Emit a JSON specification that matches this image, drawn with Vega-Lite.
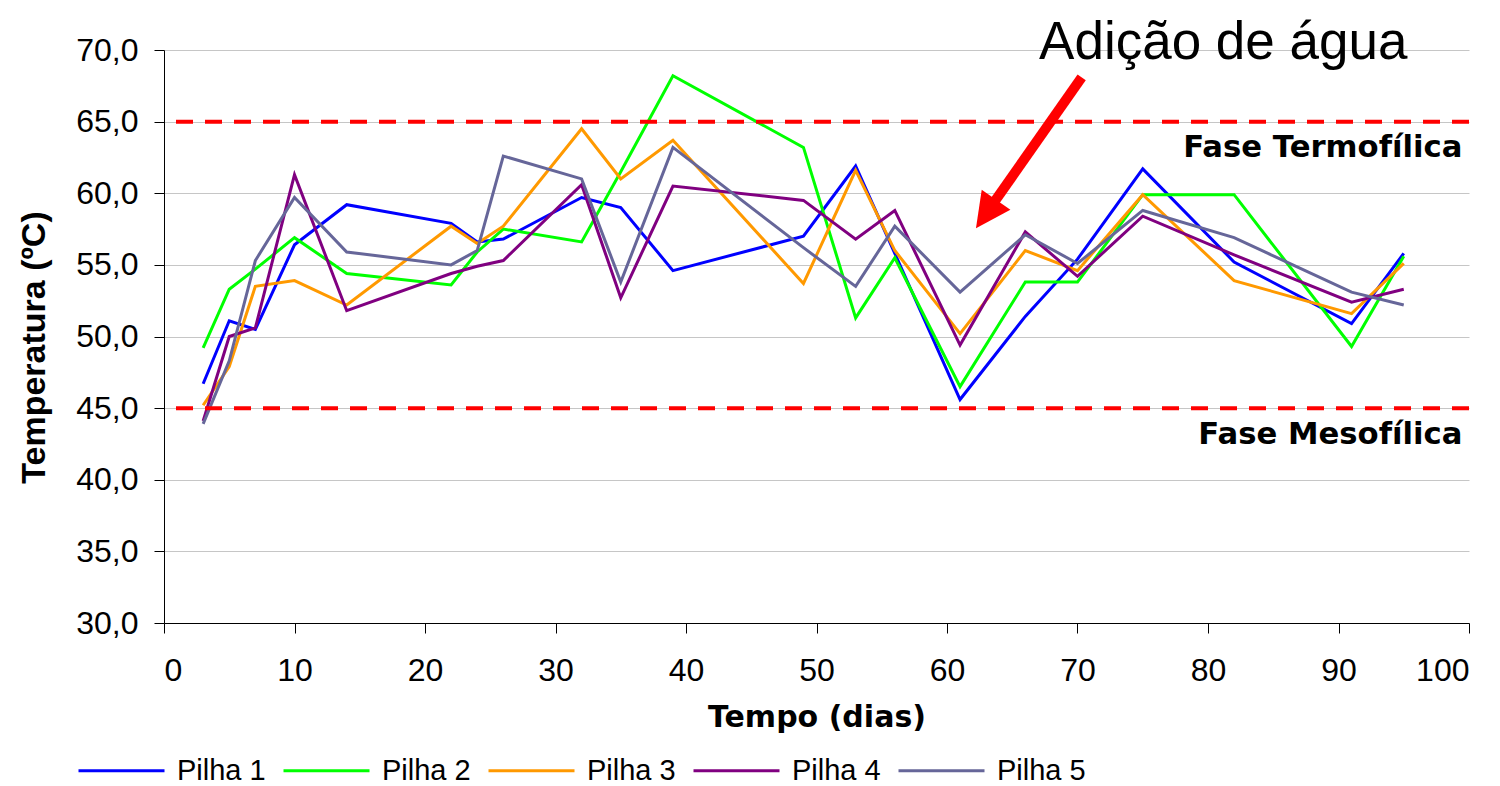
{
  "$schema": "https://vega.github.io/schema/vega-lite/v6.json",
  "autosize": {"type": "none"},
  "width": 1305,
  "height": 573,
  "padding": {"left": 164, "top": 50, "right": 31, "bottom": 163},
  "background": "white",
  "config": {
    "view": {"stroke": null},
    "font": "Liberation Sans",
    "axis": {
      "domainColor": "#000000",
      "domainWidth": 1,
      "tickColor": "#000000",
      "tickWidth": 1,
      "tickSize": 10,
      "labelFont": "Liberation Sans",
      "labelFontSize": 32,
      "labelColor": "#000000",
      "titleColor": "#000000",
      "gridColor": "#c6c6c6",
      "gridWidth": 1
    },
    "axisX": {"grid": false, "labelPadding": 22, "titlePadding": 16, "titleFont": "DejaVu Sans", "titleFontSize": 30, "titleFontWeight": "bold"},
    "axisY": {"grid": true, "labelPadding": 16, "titlePadding": 24, "titleFont": "Liberation Sans", "titleFontSize": 34, "titleFontWeight": "bold"}
  },
  "layer": [
    {
      "data": {
        "values": [
          {"dia": 3, "Pilha 1": 46.7, "Pilha 2": 49.2, "Pilha 3": 45.2, "Pilha 4": 44.1, "Pilha 5": 43.9},
          {"dia": 5, "Pilha 1": 51.1, "Pilha 2": 53.3, "Pilha 3": 47.9, "Pilha 4": 50.0, "Pilha 5": 48.3},
          {"dia": 7, "Pilha 1": 50.5, "Pilha 2": 54.7, "Pilha 3": 53.5, "Pilha 4": 50.6, "Pilha 5": 55.3},
          {"dia": 10, "Pilha 1": 56.4, "Pilha 2": 56.9, "Pilha 3": 53.9, "Pilha 4": 61.3, "Pilha 5": 59.7},
          {"dia": 14, "Pilha 1": 59.2, "Pilha 2": 54.4, "Pilha 3": 52.2, "Pilha 4": 51.8, "Pilha 5": 55.9},
          {"dia": 22, "Pilha 1": 57.9, "Pilha 2": 53.6, "Pilha 3": 57.7, "Pilha 4": 54.4, "Pilha 5": 55.0},
          {"dia": 24, "Pilha 1": 56.6, "Pilha 2": 55.9, "Pilha 3": 56.5, "Pilha 4": 54.9, "Pilha 5": 56.0},
          {"dia": 26, "Pilha 1": 56.8, "Pilha 2": 57.5, "Pilha 3": 57.7, "Pilha 4": 55.3, "Pilha 5": 62.6},
          {"dia": 32, "Pilha 1": 59.7, "Pilha 2": 56.6, "Pilha 3": 64.5, "Pilha 4": 60.6, "Pilha 5": 61.0},
          {"dia": 35, "Pilha 1": 59.0, "Pilha 2": 61.5, "Pilha 3": 61.0, "Pilha 4": 52.7, "Pilha 5": 53.8},
          {"dia": 39, "Pilha 1": 54.6, "Pilha 2": 68.2, "Pilha 3": 63.7, "Pilha 4": 60.5, "Pilha 5": 63.2},
          {"dia": 49, "Pilha 1": 57.0, "Pilha 2": 63.2, "Pilha 3": 53.7, "Pilha 4": 59.5, "Pilha 5": 56.2},
          {"dia": 53, "Pilha 1": 61.9, "Pilha 2": 51.3, "Pilha 3": 61.6, "Pilha 4": 56.8, "Pilha 5": 53.5},
          {"dia": 56, "Pilha 1": 55.8, "Pilha 2": 55.5, "Pilha 3": 56.0, "Pilha 4": 58.8, "Pilha 5": 57.7},
          {"dia": 61, "Pilha 1": 45.6, "Pilha 2": 46.5, "Pilha 3": 50.2, "Pilha 4": 49.4, "Pilha 5": 53.1},
          {"dia": 66, "Pilha 1": 51.4, "Pilha 2": 53.8, "Pilha 3": 56.0, "Pilha 4": 57.3, "Pilha 5": 57.1},
          {"dia": 70, "Pilha 1": 55.4, "Pilha 2": 53.8, "Pilha 3": 54.6, "Pilha 4": 54.2, "Pilha 5": 55.1},
          {"dia": 75, "Pilha 1": 61.7, "Pilha 2": 59.9, "Pilha 3": 59.9, "Pilha 4": 58.4, "Pilha 5": 58.8},
          {"dia": 82, "Pilha 1": 55.2, "Pilha 2": 59.9, "Pilha 3": 53.9, "Pilha 4": 55.7, "Pilha 5": 56.9},
          {"dia": 91, "Pilha 1": 50.9, "Pilha 2": 49.3, "Pilha 3": 51.6, "Pilha 4": 52.4, "Pilha 5": 53.1},
          {"dia": 95, "Pilha 1": 55.8, "Pilha 2": 55.6, "Pilha 3": 55.1, "Pilha 4": 53.3, "Pilha 5": 52.2}
        ]
      },
      "transform": [{"fold": ["Pilha 1", "Pilha 2", "Pilha 3", "Pilha 4", "Pilha 5"], "as": ["pilha", "temp"]}],
      "mark": {"type": "line", "strokeWidth": 3, "clip": false},
      "encoding": {
        "x": {"field": "dia", "type": "quantitative", "title": "Tempo (dias)",
              "scale": {"domain": [0, 100], "nice": false, "zero": false},
              "axis": {"values": [0, 10, 20, 30, 40, 50, 60, 70, 80, 90, 100]}},
        "y": {"field": "temp", "type": "quantitative", "title": "Temperatura (ºC)",
              "scale": {"domain": [30, 70], "nice": false, "zero": false},
              "axis": {"values": [30, 35, 40, 45, 50, 55, 60, 65, 70], "labelExpr": "replace(format(datum.value, '.1f'), '.', ',')", "titleY": 297}},
        "color": {"field": "pilha", "type": "nominal",
                  "scale": {"domain": ["Pilha 1", "Pilha 2", "Pilha 3", "Pilha 4", "Pilha 5"], "range": ["#0000FF", "#00FF00", "#FF9900", "#800080", "#666699"]},
                  "legend": {"title": null, "orient": "none", "direction": "horizontal", "legendX": -87, "legendY": 676,
                             "symbolType": "stroke", "symbolSize": 7396, "symbolStrokeWidth": 3,
                             "labelFont": "Liberation Sans", "labelFontSize": 29, "labelColor": "#000000",
                             "labelOffset": 11, "columnPadding": 11, "padding": 0}}
      }
    },
    {
      "data": {"values": [{"temp": 65}, {"temp": 45}]},
      "mark": {"type": "rule", "color": "#FF0000", "strokeWidth": 4, "strokeDash": [17, 12]},
      "encoding": {
        "y": {"field": "temp", "type": "quantitative", "scale": {"domain": [30, 70], "nice": false, "zero": false}}
      }
    },
    {
      "data": {"values": [{"dia": 70.32, "temp": 68.09, "dia2": 63.52, "temp2": 59.25}]},
      "mark": {"type": "rule", "color": "#FF0000", "strokeWidth": 10, "strokeCap": "butt"},
      "encoding": {
        "x": {"field": "dia", "type": "quantitative", "scale": {"domain": [0, 100], "nice": false, "zero": false}},
        "y": {"field": "temp", "type": "quantitative", "scale": {"domain": [30, 70], "nice": false, "zero": false}},
        "x2": {"field": "dia2"},
        "y2": {"field": "temp2"}
      }
    },
    {
      "data": {"values": [{"dia": 62.99, "temp": 58.55}]},
      "mark": {"type": "point", "shape": "M0,-1L1,1L-1,1Z", "size": 1225, "angle": 215, "filled": true, "color": "#FF0000", "opacity": 1, "strokeWidth": 0},
      "encoding": {
        "x": {"field": "dia", "type": "quantitative", "scale": {"domain": [0, 100], "nice": false, "zero": false}},
        "y": {"field": "temp", "type": "quantitative", "scale": {"domain": [30, 70], "nice": false, "zero": false}}
      }
    },
    {
      "data": {"values": [{"dia": 100, "temp": 62.55, "rotulo": "Fase Termofílica"}, {"dia": 100, "temp": 42.5, "rotulo": "Fase Mesofílica"}]},
      "mark": {"type": "text", "align": "right", "baseline": "alphabetic", "dx": -6.5, "font": "DejaVu Sans", "fontSize": 30.7, "fontWeight": "bold", "color": "#000000"},
      "encoding": {
        "x": {"field": "dia", "type": "quantitative", "scale": {"domain": [0, 100], "nice": false, "zero": false}},
        "y": {"field": "temp", "type": "quantitative", "scale": {"domain": [30, 70], "nice": false, "zero": false}},
        "text": {"field": "rotulo"}
      }
    },
    {
      "data": {"values": [{"dia": 81.17, "temp": 69.35, "rotulo": "Adição de água"}]},
      "mark": {"type": "text", "align": "center", "baseline": "alphabetic", "font": "Liberation Sans", "fontSize": 53, "color": "#000000"},
      "encoding": {
        "x": {"field": "dia", "type": "quantitative", "scale": {"domain": [0, 100], "nice": false, "zero": false}},
        "y": {"field": "temp", "type": "quantitative", "scale": {"domain": [30, 70], "nice": false, "zero": false}},
        "text": {"field": "rotulo"}
      }
    }
  ]
}
